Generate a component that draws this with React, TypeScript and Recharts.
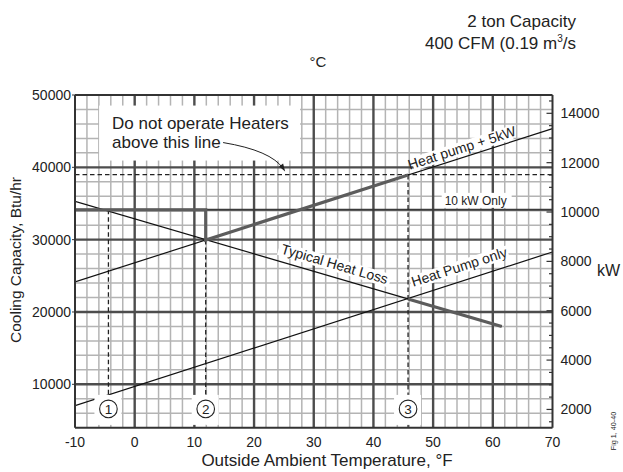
import React from 'react';
import { ComposedChart, Line, XAxis, YAxis, CartesianGrid, ReferenceDot } from 'recharts';

const FONT = "'Liberation Sans', Arial, Helvetica, sans-serif";
const INK = '#222';

// Outside temperature axis, °F
const fTicks = [-10, 0, 10, 20, 30, 40, 50, 60, 70];
const fMajor = [0, 10, 20, 30, 40, 50, 60];
const fMinor = [-8, -6, -4, -2, 2, 4, 6, 8, 12, 14, 16, 18, 22, 24, 26, 28, 32, 34, 36, 38, 42, 44, 46, 48, 52, 54, 56, 58, 62, 64, 66, 68];

// Capacity axis, Btu/hr
const btuTicks = [10000, 20000, 30000, 40000, 50000];
const btuMajor = [10000, 20000, 30000, 40000];
const btuMinor = [6000, 8000, 12000, 14000, 16000, 18000, 22000, 24000, 26000, 28000, 32000, 34000, 36000, 38000, 42000, 44000, 46000, 48000];

// Top axis, °C
const cTicks = [-22, -20, -18, -16, -14, -12, -10, -8, -6, -4, -2, 0, 2, 4, 6, 8, 10, 12, 14, 16, 18, 20];

// Right axis, W
const wTicks = [1500, 2000, 2500, 3000, 3500, 4000, 4500, 5000, 5500, 6000, 6500, 7000, 7500, 8000, 8500, 9000, 9500, 10000, 10500, 11000, 11500, 12000, 12500, 13000, 13500, 14000, 14500];

const F_DOMAIN: [number, number] = [-10, 70];
const BTU_DOMAIN: [number, number] = [4000, 50000];
const C_DOMAIN: [number, number] = [(F_DOMAIN[0] - 32) / 1.8, (F_DOMAIN[1] - 32) / 1.8];
const W_DOMAIN: [number, number] = [(BTU_DOMAIN[0] + 300) / 3.412, (BTU_DOMAIN[1] + 300) / 3.412];

// Capacity curves
const hpTemps = [-10, 70];
const heatPumpOnly = [7050, 28300];
const heatPumpPlus5kW = [24150, 45350];
const lossTemps = [-10, 61.5];
const typicalHeatLoss = [35300, 18000];

const tenKwLevel = 34120;
const heaterLimit = 39000;
const balanceTemps = [-4.4, 11.9, 45.8];
const balanceMarks = ['1', '2', '3'];
const markLevel = 6600;

function valueAt(xs: number[], ys: number[], t: number) {
  for (let i = 0; i < xs.length - 1; i++) {
    if (t >= xs[i] && t <= xs[i + 1]) {
      return ys[i] + ((ys[i + 1] - ys[i]) * (t - xs[i])) / (xs[i + 1] - xs[i]);
    }
  }
  return ys[ys.length - 1];
}

const toPoints = (xs: number[], ys: number[]) => xs.map((t, i) => ({ t, v: ys[i] }));

const [bp1, bp2, bp3] = balanceTemps;
const bp2Top = valueAt(hpTemps, heatPumpPlus5kW, bp2);
const bp3Top = valueAt(hpTemps, heatPumpPlus5kW, bp3);

const boostPath = [
  { t: F_DOMAIN[0], v: tenKwLevel },
  { t: bp2, v: tenKwLevel },
  { t: bp2, v: bp2Top },
  { t: bp3, v: bp3Top },
];
const lossTail = [
  { t: bp3, v: valueAt(lossTemps, typicalHeatLoss, bp3) },
  { t: lossTemps[1], v: typicalHeatLoss[1] },
];
const tenKwLine = [
  { t: F_DOMAIN[0], v: tenKwLevel },
  { t: F_DOMAIN[1], v: tenKwLevel },
];
const limitLine = [
  { t: F_DOMAIN[0], v: heaterLimit },
  { t: F_DOMAIN[1], v: heaterLimit },
];
const drop1 = [
  { t: bp1, v: tenKwLevel },
  { t: bp1, v: valueAt(hpTemps, heatPumpOnly, bp1) },
];
const drop2 = [
  { t: bp2, v: bp2Top },
  { t: bp2, v: BTU_DOMAIN[0] },
];
const drop3 = [
  { t: bp3, v: bp3Top },
  { t: bp3, v: BTU_DOMAIN[0] },
];

const textStyle = { fontFamily: FONT, fill: INK };

function TopTick(props: any) {
  const { x, y, payload } = props;
  const v = payload.value as number;
  const major = v % 10 === 0;
  return (
    <g>
      <line x1={x} x2={x} y1={y} y2={y - (major ? 6 : 3.5)} stroke="#333" strokeWidth={1.2} />
      {major && (
        <text x={x} y={y - 12} textAnchor="middle" fontSize={14} {...textStyle}>
          {v}
        </text>
      )}
    </g>
  );
}

function RightTick(props: any) {
  const { x, y, payload } = props;
  const v = payload.value as number;
  const major = v % 2000 === 0;
  return (
    <g>
      <line x1={x} x2={x - (major ? 6 : 3.5)} y1={y} y2={y} stroke="#333" strokeWidth={1.2} />
      {major && (
        <text x={x + 8} y={y + 5} textAnchor="start" fontSize={14} {...textStyle}>
          {v}
        </text>
      )}
    </g>
  );
}

const HeaterNote = (p: any) => {
  const { cx, cy } = p;
  return (
    <g>
      <rect x={cx - 186} y={cy - 69} width={201} height={55} fill="#fff" />
      <text x={cx - 173} y={cy - 46} fontSize={17} {...textStyle}>
        Do not operate Heaters
      </text>
      <text x={cx - 173} y={cy - 27} fontSize={17} {...textStyle}>
        above this line
      </text>
      <path
        d={`M${cx - 62},${cy - 32} Q${cx - 14},${cy - 24} ${cx - 2},${cy - 6}`}
        fill="none"
        stroke={INK}
        strokeWidth={1}
      />
      <polygon points={`${cx},${cy - 3} ${cx - 6},${cy - 8} ${cx - 2},${cy - 11}`} fill={INK} />
    </g>
  );
};

const makeCircleMark = (label: string) => (p: any) => {
  const { cx, cy } = p;
  return (
    <g>
      <rect x={cx - 14} y={cy - 14} width={27} height={30} fill="#fff" />
      <circle cx={cx} cy={cy} r={8.8} fill="none" stroke={INK} strokeWidth={1.1} />
      <text x={cx} y={cy + 4.8} textAnchor="middle" fontSize={13.5} {...textStyle}>
        {label}
      </text>
    </g>
  );
};

const makeLineLabel = (text: string, angle: number, dy: number, w: number) => (p: any) => {
  const { cx, cy } = p;
  return (
    <g transform={`translate(${cx},${cy}) rotate(${angle})`}>
      <rect x={-w / 2} y={dy - 11} width={w} height={13.5} fill="#fff" />
      <text x={0} y={dy} textAnchor="middle" fontSize={14} {...textStyle}>
        {text}
      </text>
    </g>
  );
};

const TenKwNote = (p: any) => {
  const { cx, cy } = p;
  return (
    <g>
      <rect x={cx - 1} y={cy - 17} width={70} height={15} fill="#fff" />
      <text x={cx + 2} y={cy - 5} fontSize={12} {...textStyle}>
        10 kW Only
      </text>
    </g>
  );
};

const lineCommon = {
  xAxisId: 'f',
  yAxisId: 'btu',
  dataKey: 'v',
  dot: false,
  activeDot: false,
  isAnimationActive: false,
  type: 'linear' as const,
};

export default function App() {
  return (
    <div style={{ position: 'absolute', left: 0, top: 0, width: 623, height: 472, background: '#fff' }}>
      <ComposedChart width={623} height={472} margin={{ top: 65, right: 0, bottom: 14.3, left: 0 }}>
        <CartesianGrid
          xAxisId="f"
          yAxisId="btu"
          verticalValues={fMinor}
          horizontalValues={btuMinor}
          stroke="#b4b4b4"
          strokeWidth={1.5}
        />
        <CartesianGrid
          xAxisId="f"
          yAxisId="btu"
          verticalValues={fMajor}
          horizontalValues={btuMajor}
          stroke="#4d4d4d"
          strokeWidth={2.4}
        />
        <XAxis
          xAxisId="f"
          dataKey="t"
          type="number"
          orientation="bottom"
          domain={F_DOMAIN}
          ticks={fTicks}
          interval={0}
          allowDataOverflow
          height={30}
          tickLine={false}
          tickSize={0}
          tickMargin={9}
          axisLine={{ stroke: '#333', strokeWidth: 2 }}
          tick={{ fontSize: 14, fill: INK, fontFamily: FONT }}
        />
        <XAxis
          xAxisId="c"
          type="number"
          orientation="top"
          domain={C_DOMAIN}
          ticks={cTicks}
          interval={0}
          allowDataOverflow
          height={30}
          tickLine={false}
          tickSize={0}
          tickMargin={0}
          axisLine={{ stroke: '#333', strokeWidth: 2 }}
          tick={<TopTick />}
        />
        <YAxis
          yAxisId="btu"
          type="number"
          orientation="left"
          domain={BTU_DOMAIN}
          ticks={btuTicks}
          interval={0}
          allowDataOverflow
          width={75}
          tickSize={3}
          tickMargin={1}
          stroke="#333"
          axisLine={{ stroke: '#333', strokeWidth: 2 }}
          tick={{ fontSize: 14, fill: INK, fontFamily: FONT }}
        />
        <YAxis
          yAxisId="w"
          type="number"
          orientation="right"
          domain={W_DOMAIN}
          ticks={wTicks}
          interval={0}
          allowDataOverflow
          width={70.5}
          tickLine={false}
          tickSize={0}
          tickMargin={0}
          axisLine={{ stroke: '#333', strokeWidth: 2 }}
          tick={<RightTick />}
        />

        <Line {...lineCommon} data={tenKwLine} stroke="#3a3a3a" strokeWidth={2} />
        <Line {...lineCommon} data={limitLine} stroke={INK} strokeWidth={1.3} strokeDasharray="4.5 3" />
        <Line {...lineCommon} data={drop1} stroke={INK} strokeWidth={1.3} strokeDasharray="4.5 3" />
        <Line {...lineCommon} data={drop2} stroke={INK} strokeWidth={1.3} strokeDasharray="4.5 3" />
        <Line {...lineCommon} data={drop3} stroke={INK} strokeWidth={1.3} strokeDasharray="4.5 3" />
        <Line {...lineCommon} data={toPoints(hpTemps, heatPumpOnly)} stroke="#111" strokeWidth={1.2} />
        <Line {...lineCommon} data={toPoints(hpTemps, heatPumpPlus5kW)} stroke="#111" strokeWidth={1.2} />
        <Line {...lineCommon} data={toPoints(lossTemps, typicalHeatLoss)} stroke="#111" strokeWidth={1.2} />
        <Line {...lineCommon} data={boostPath} stroke="#5c5c5c" strokeWidth={3.2} />
        <Line {...lineCommon} data={lossTail} stroke="#5c5c5c" strokeWidth={3.2} />

        <ReferenceDot
          xAxisId="f"
          yAxisId="btu"
          x={25.2}
          y={heaterLimit}
          r={0}
          shape={HeaterNote}
          zIndex={650}
        />
        <ReferenceDot xAxisId="f" yAxisId="btu" x={51.6} y={tenKwLevel} r={0} shape={TenKwNote} zIndex={650} />
        <ReferenceDot
          xAxisId="f"
          yAxisId="btu"
          x={55.3}
          y={valueAt(hpTemps, heatPumpPlus5kW, 55.3)}
          r={0}
          shape={makeLineLabel('Heat pump + 5kW', -17.84, -4.5, 104)}
          zIndex={650}
        />
        <ReferenceDot
          xAxisId="f"
          yAxisId="btu"
          x={55.1}
          y={valueAt(hpTemps, heatPumpOnly, 55.1)}
          r={0}
          shape={makeLineLabel('Heat Pump only', -17.84, -9.5, 102)}
          zIndex={650}
        />
        <ReferenceDot
          xAxisId="f"
          yAxisId="btu"
          x={32.9}
          y={valueAt(lossTemps, typicalHeatLoss, 32.9)}
          r={0}
          shape={makeLineLabel('Typical Heat Loss', 16.34, -8, 116)}
          zIndex={650}
        />
        {balanceTemps.map((t, i) => (
          <ReferenceDot
            key={balanceMarks[i]}
            xAxisId="f"
            yAxisId="btu"
            x={t}
            y={markLevel}
            r={0}
            shape={makeCircleMark(balanceMarks[i])}
            zIndex={650}
          />
        ))}
      </ComposedChart>

      <svg
        width={623}
        height={472}
        style={{ position: 'absolute', left: 0, top: 0, pointerEvents: 'none' }}
      >
        <text x={576} y={26.5} textAnchor="end" fontSize={17} {...textStyle}>
          2 ton Capacity
        </text>
        <text x={576} y={49} textAnchor="end" fontSize={17} {...textStyle}>
          400 CFM (0.19 m
          <tspan dy={-7} fontSize={10}>
            3
          </tspan>
          <tspan dy={7}>/s</tspan>
        </text>
        <text x={318} y={67} textAnchor="middle" fontSize={15} {...textStyle}>
          °C
        </text>
        <text x={327} y={466} textAnchor="middle" fontSize={17} {...textStyle}>
          Outside Ambient Temperature, °F
        </text>
        <text transform="translate(20.5,260) rotate(-90)" textAnchor="middle" fontSize={15.5} {...textStyle}>
          Cooling Capacity, Btu/hr
        </text>
        <text x={597} y={276} fontSize={16} {...textStyle}>
          kW
        </text>
        <text transform="translate(616,431) rotate(-90)" textAnchor="middle" fontSize={7.2} {...textStyle}>
          Fig 1, 40-40
        </text>
      </svg>
    </div>
  );
}
